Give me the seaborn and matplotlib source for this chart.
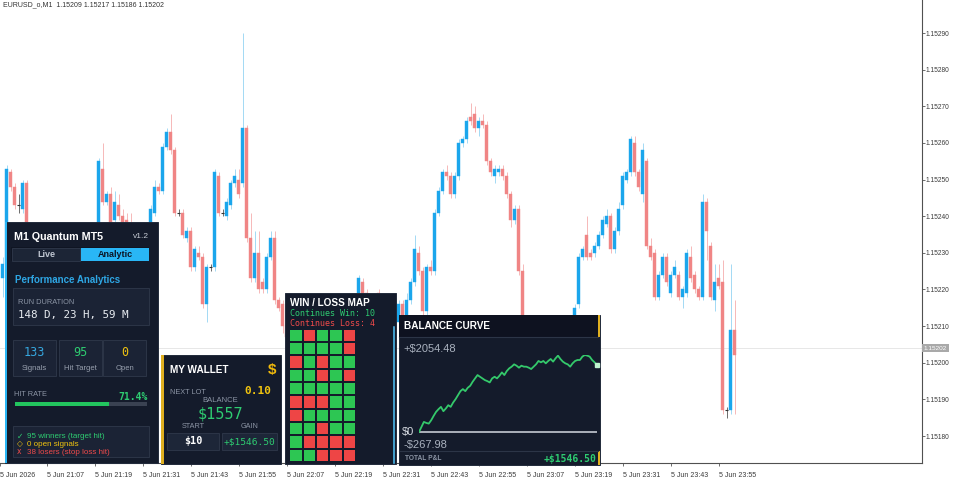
import numpy as np
import matplotlib
matplotlib.use("Agg")
import matplotlib.pyplot as plt
from matplotlib.patches import Rectangle
from matplotlib.colors import ListedColormap
import seaborn as sns

# ---------------- chart data ----------------
header_text = "EURUSD_o,M1  1.15209 1.15217 1.15186 1.15202"
first_candle = "20:56"

# M1 candles, prices in points above 1.15000 (1 point = 0.00001)
opens = [223, 227, 252, 248, 243, 242, 249, 237, 234, 231,
         233, 228, 225, 227, 223, 220, 222, 219, 224, 226,
         223, 228, 231, 229, 236, 253, 244, 246, 239, 243,
         240, 239, 237, 233, 230, 228, 231, 233, 241, 248,
         247, 259, 263, 258, 241, 241, 234, 236, 226, 230,
         229, 216, 226, 226, 251, 241, 240, 243, 249, 250,
         249, 264, 234, 223, 230, 222, 220, 229, 234, 217,
         216, 210, 207, 204, 206, 202, 199, 203, 205, 201,
         198, 202, 206, 204, 208, 211, 209, 213, 215, 219,
         222, 219, 218, 216, 219, 215, 212, 214, 211, 211,
         216, 212, 217, 222, 230, 225, 214, 226, 225, 241,
         247, 252, 251, 246, 251, 260, 261, 267, 268, 264,
         266, 265, 255, 251, 252, 253, 251, 246, 239, 242,
         225, 212, 208, 205, 209, 203, 200, 204, 207, 202,
         199, 203, 206, 204, 216, 229, 235, 230, 230, 232,
         235, 238, 240, 231, 236, 243, 250, 252, 260, 252,
         246, 255, 232, 230, 218, 224, 229, 219, 224, 224,
         218, 219, 229, 224, 220, 218, 244, 232, 217, 223,
         222, 187, 187, 209]
highs = [229, 254, 253, 249, 246, 250, 250, 237, 235, 235,
         234, 230, 229, 228, 224, 224, 223, 226, 228, 227,
         229, 233, 232, 236, 256, 260, 247, 248, 247, 246,
         242, 241, 241, 235, 232, 233, 234, 243, 250, 249,
         260, 264, 268, 259, 242, 242, 237, 237, 232, 232,
         230, 227, 227, 253, 252, 242, 245, 250, 253, 253,
         290, 265, 241, 236, 236, 223, 230, 236, 236, 218,
         217, 212, 209, 207, 207, 203, 204, 206, 206, 202,
         203, 207, 207, 209, 212, 212, 214, 216, 218, 224,
         223, 220, 219, 218, 220, 216, 215, 215, 214, 217,
         217, 219, 223, 235, 232, 226, 227, 228, 242, 248,
         253, 254, 252, 252, 261, 262, 267, 271, 270, 267,
         268, 266, 256, 254, 254, 254, 252, 247, 243, 243,
         227, 212, 210, 210, 210, 205, 206, 208, 208, 203,
         204, 207, 207, 216, 230, 232, 240, 231, 233, 236,
         240, 242, 241, 237, 244, 252, 253, 262, 262, 253,
         260, 256, 234, 231, 225, 230, 230, 225, 228, 225,
         221, 231, 232, 225, 221, 246, 245, 233, 227, 227,
         228, 188, 227, 217]
lows = [218, 225, 247, 242, 241, 241, 236, 232, 229, 230,
        226, 224, 224, 221, 218, 219, 217, 218, 223, 221,
        222, 227, 227, 228, 235, 243, 243, 237, 238, 239,
        236, 233, 232, 229, 226, 227, 230, 232, 240, 246,
        246, 258, 257, 240, 240, 234, 233, 225, 225, 228,
        215, 211, 225, 225, 240, 240, 239, 242, 248, 245,
        248, 233, 222, 222, 219, 219, 219, 228, 216, 214,
        208, 205, 203, 203, 201, 197, 198, 202, 200, 196,
        197, 201, 203, 203, 207, 208, 208, 212, 214, 217,
        217, 216, 215, 214, 214, 211, 211, 210, 210, 210,
        211, 211, 216, 221, 224, 213, 212, 224, 224, 240,
        246, 250, 245, 245, 250, 259, 260, 265, 263, 262,
        264, 254, 251, 249, 251, 250, 245, 237, 238, 224,
        212, 206, 204, 204, 202, 198, 199, 203, 201, 197,
        198, 202, 203, 203, 215, 228, 228, 228, 229, 231,
        234, 237, 230, 230, 235, 242, 249, 251, 251, 247,
        244, 231, 228, 217, 217, 223, 221, 218, 223, 217,
        215, 218, 222, 219, 217, 217, 228, 217, 214, 220,
        186, 185, 186, 186]
closes = [227, 253, 248, 243, 243, 249, 238, 234, 231, 233,
          228, 225, 227, 223, 220, 222, 219, 224, 226, 223,
          228, 231, 229, 235, 255, 244, 246, 238, 244, 240,
          237, 234, 233, 230, 228, 231, 233, 242, 248, 247,
          259, 263, 258, 241, 241, 235, 236, 226, 231, 229,
          216, 226, 226, 252, 241, 241, 244, 249, 251, 246,
          264, 234, 223, 230, 220, 220, 229, 234, 217, 215,
          210, 207, 204, 206, 202, 199, 203, 205, 201, 198,
          202, 206, 204, 208, 211, 209, 213, 215, 217, 223,
          218, 218, 216, 217, 215, 212, 214, 211, 213, 216,
          212, 217, 222, 231, 225, 214, 226, 225, 241, 247,
          252, 251, 246, 251, 260, 261, 266, 266, 264, 266,
          265, 255, 252, 253, 253, 251, 246, 239, 242, 225,
          213, 208, 205, 209, 203, 200, 204, 207, 202, 199,
          203, 206, 204, 215, 229, 231, 229, 229, 232, 235,
          239, 240, 231, 236, 242, 251, 252, 261, 252, 248,
          258, 232, 229, 218, 224, 229, 222, 224, 226, 218,
          220, 230, 223, 220, 218, 244, 236, 218, 222, 221,
          187, 187, 209, 202]

price_ticks = [1.15180, 1.15190, 1.15200, 1.15210, 1.15220, 1.15230,
               1.15240, 1.15250, 1.15260, 1.15270, 1.15280, 1.15290]
date_label = "5 Jun 2026"
time_labels = ["21:07", "21:19", "21:31", "21:43", "21:55", "22:07", "22:19",
               "22:31", "22:43", "22:55", "23:07", "23:19", "23:31", "23:43", "23:55"]
bid_price = 1.15204
bid_text = "1.15202"

# dashboard values
run_duration = "148 D, 23 H, 59 M"
n_signals, n_hit, n_open, n_losers = 133, 95, 0, 38
hit_rate = 71.4
next_lot = 0.10
wallet_balance = 1557
wallet_start = 10
wallet_gain = 1546.50
streak_win, streak_loss = 10, 4
win_loss_rows = ["WLWWL", "WWWWL", "LWLWW", "WWLWL", "WWWWW",
                 "LLLWW", "LWWWW", "WWLWW", "WLLLL", "WWLLL"]
balance_curve = [0, 134, 268, 241, 223, 313, 429, 536, 608, 670, 554, 626, 715,
                 670, 786, 876, 983, 1090, 1144, 1090, 1180, 1233, 1340, 1430,
                 1519, 1474, 1430, 1385, 1358, 1322, 1430, 1474, 1430, 1501, 1590,
                 1519, 1626, 1698, 1743, 1805, 1769, 1716, 1769, 1743, 1743, 1716,
                 1680, 1743, 1805, 1895, 1859, 1895, 1832, 1895, 1948, 1877, 1966,
                 2038, 1948, 1877, 1832, 1805, 1743, 1832, 1895, 1921, 1921, 2011,
                 2054.48, 2038, 2011, 1921, 1859, 1787]
balance_max, balance_min = 2054.48, -267.98
total_pnl = 1546.50

# ---------------- styles ----------------
W, H = 960, 487
BULL, BULL_WICK = "#1ba6ec", "#a3d9f4"
BEAR, BEAR_WICK = "#f08585", "#f6b8b8"
PANEL = "#141b2b"
INNER = "#1b2335"
EDGE = "#2c3547"
GREEN = "#2ecc71"
RED = "#ef4a4a"
GOLD = "#f1c40f"
BLUE = "#2ea6e4"
GREY = "#8c95a5"
SANS = "Liberation Sans"
MONO = "DejaVu Sans Mono"

fig = plt.figure(figsize=(W / 100, H / 100), dpi=100)
fig.patch.set_facecolor("white")


def frect(x0, y0, x1, y1):
    return [x0 / W, 1 - y1 / H, (x1 - x0) / W, (y1 - y0) / H]


# ---------------- candle chart ----------------
ax = fig.add_axes(frect(0, 0, 922, 463))
o = 1.15 + np.array(opens) * 1e-5
hi = 1.15 + np.array(highs) * 1e-5
lo = 1.15 + np.array(lows) * 1e-5
c = 1.15 + np.array(closes) * 1e-5
x = np.arange(len(o))
up = np.array(closes) > np.array(opens)
dn = np.array(closes) < np.array(opens)
dj = np.array(closes) == np.array(opens)

ax.axhline(bid_price, color="#e3e3e3", lw=0.6, zorder=0)
ax.vlines(x[up], lo[up], hi[up], color=BULL_WICK, lw=0.7, zorder=1)
ax.vlines(x[dn], lo[dn], hi[dn], color=BEAR_WICK, lw=0.7, zorder=1)
ax.vlines(x[dj], lo[dj], hi[dj], color="#555555", lw=0.6, zorder=1)
ax.bar(x[up], (c - o)[up], bottom=o[up], width=0.68, color=BULL, edgecolor=BULL, lw=0.3, zorder=2)
ax.bar(x[dn], (o - c)[dn], bottom=c[dn], width=0.68, color=BEAR, edgecolor=BEAR, lw=0.3, zorder=2)
ax.hlines(o[dj], x[dj] - 0.4, x[dj] + 0.4, color="#333333", lw=0.8, zorder=2)

px_per_price = 366400.0
ax.set_xlim(-2.7 / 4, (922 - 2.7) / 4)
ax.set_ylim(1.15290 - 430 / px_per_price, 1.15290 + 33 / px_per_price)

start_min = int(first_candle[:2]) * 60 + int(first_candle[3:])
tick_pos = [ax.get_xlim()[0]] + [int(t[:2]) * 60 + int(t[3:]) - start_min for t in time_labels]
ax.set_xticks(tick_pos)
ax.set_xticklabels([date_label] + ["5 Jun " + t for t in time_labels], ha="left",
                   fontsize=5, family=SANS, color="#3a3a3a")
ax.yaxis.tick_right()
ax.set_yticks(price_ticks)
ax.set_yticklabels([f"{p:.5f}" for p in price_ticks], fontsize=4.8, family=SANS, color="#3a3a3a")
ax.tick_params(axis="x", length=2.5, width=0.6, pad=4, color="#555555")
ax.tick_params(axis="y", length=1.8, width=0.6, pad=1, color="#555555")
for s in ["left", "top"]:
    ax.spines[s].set_visible(False)
for s in ["right", "bottom"]:
    ax.spines[s].set_color("#505050")
    ax.spines[s].set_linewidth(0.8)
ax.set_facecolor("white")
ax.text(1.002, bid_price, bid_text, transform=ax.get_yaxis_transform(), ha="left", va="center",
        fontsize=4.6, family=SANS, color="white",
        bbox=dict(boxstyle="square,pad=0.25", fc="#a9a9a9", ec="none"))

# ---------------- overlay panels (pixel coordinates) ----------------
ov = fig.add_axes([0, 0, 1, 1], zorder=5)
ov.set_xlim(0, W)
ov.set_ylim(H, 0)
ov.axis("off")
ov.patch.set_alpha(0)


def box(x0, y0, w, h, fc, ec="none", lw=0.7):
    ov.add_patch(Rectangle((x0, y0), w, h, facecolor=fc, edgecolor=ec, linewidth=lw))


def txt(x0, y0, s, size, color, weight="normal", family=SANS, ha="left", va="center"):
    ov.text(x0, y0, s, fontsize=size, color=color, fontweight=weight, family=family,
            ha=ha, va=va)


ov.text(3, 5, header_text, fontsize=5, family=SANS, color="#333333", va="center")

# M1 Quantum panel
box(5, 222, 153, 241, PANEL, "#222b3c")
box(5, 222, 2.2, 241, "#29b6f6")
txt(14, 237, "M1 Quantum MT5", 7.7, "white", "bold")
txt(149, 236, "v1.2", 6, "#c8cdd6", ha="right")
box(11, 247, 138, 14, "#0f1523")
box(11.5, 247.5, 68, 13, "#1c2536", EDGE)
box(81, 247.5, 68, 13, "#29b6f6")
txt(46, 254.5, "Live", 6.5, "#c0c7d2", "bold", ha="center")
txt(115, 254.5, "Analytic", 6.5, "#0c1626", "bold", ha="center")
txt(15, 280, "Performance Analytics", 7, BLUE, "bold")
box(13, 288, 136, 37, INNER, EDGE)
txt(18, 302, "RUN DURATION", 5.3, GREY)
txt(18, 315, run_duration, 7.8, "#e8ecf1", family=MONO)
stat_boxes = [(13, str(n_signals), "Signals", "#36a8e0"),
              (58.5, str(n_hit), "Hit Target", GREEN),
              (103, str(n_open), "Open", GOLD)]
for bx, val, lab, col in stat_boxes:
    box(bx, 340, 43, 36, INNER, EDGE)
    txt(bx + 21.5, 352, val, 8.5, col, family=MONO, ha="center")
    txt(bx + 21.5, 369, lab, 5.5, "#98a0ae", ha="center")
txt(14, 395, "HIT RATE", 5.3, GREY)
txt(148, 396.5, f"{hit_rate:.1f}%", 7, GREEN, "bold", family=MONO, ha="right")
box(15, 402, 132, 4, "#3a4252")
box(15, 402, 132 * hit_rate / 100, 4, "#22c55e")
box(13, 426, 136, 31, INNER, EDGE)
lines = [("✓", f"{n_hit} winners (target hit)", GREEN),
         ("◇", f"{n_open} open signals", GOLD),
         ("x", f"{n_losers} losers (stop loss hit)", RED)]
for k, (sym, s, col) in enumerate(lines):
    txt(17, 436 + 8 * k, sym, 5.5, col, family="DejaVu Sans")
    txt(27, 436 + 8 * k, s, 5.8, col)

# wallet panel
box(161, 355, 120, 109, PANEL, "#222b3c")
box(161, 355, 2.5, 109, "#e0b020")
txt(170, 370, "MY WALLET", 7.2, "white", "bold")
txt(272, 370, "$", 11, "#f0b90b", "bold", ha="center")
txt(170, 392, "NEXT LOT", 5.3, GREY)
txt(271, 391, f"{next_lot:.2f}", 8, GOLD, "bold", family=MONO, ha="right")
txt(220, 401, "BALANCE", 5.5, GREY, ha="center")
txt(220, 414, f"${wallet_balance}", 11, GREEN, family=MONO, ha="center")
txt(193, 427, "START", 5.2, GREY, ha="center")
txt(250, 427, "GAIN", 5.2, GREY, ha="center")
box(167, 433, 52, 17, "#1d2638", EDGE)
box(222, 433, 55, 17, "#1d2638", EDGE)
txt(193, 441.5, f"${wallet_start}", 7.3, "white", "bold", family=MONO, ha="center")
txt(249.5, 441.5, f"+${wallet_gain:.2f}", 6.8, GREEN, family=MONO, ha="center")

# win / loss map panel
box(285, 293, 111, 171, PANEL, "#222b3c")
txt(290, 303, "WIN / LOSS MAP", 7.2, "white", "bold")
txt(290, 314, f"Continues Win: {streak_win}", 6, GREEN, family=MONO)
txt(290, 324, f"Continues Loss: {streak_loss}", 6, RED, family=MONO)
ov.plot([393.5, 393.5], [327, 463], color="#4fc3f7", lw=1.1)

# balance curve panel
box(399, 315, 201, 150, PANEL, "#222b3c")
box(399, 315, 201, 22, "#0e1220")
ov.plot([399, 598], [337, 337], color=EDGE, lw=0.8)
ov.plot([399, 598], [451, 451], color=EDGE, lw=0.8)
box(598, 315, 2.2, 22, "#e0b020")
box(598, 451, 2.2, 14, "#e0b020")
txt(404, 326, "BALANCE CURVE", 7.2, "white", "bold")
txt(403, 349, f"+${balance_max:.2f}", 8, "#aab2bf")
txt(402, 432, "$0", 8, "#d8dce3")
txt(403, 445, f"-${-balance_min:.2f}", 8, "#aab2bf")
txt(405, 458, "TOTAL P&L", 4.8, GREY, "bold")
txt(596, 459.5, f"+${total_pnl:.2f}", 7, GREEN, "bold", family=MONO, ha="right")

# heatmap of the last trades
grid = np.array([[1 if ch == "W" else 0 for ch in row] for row in win_loss_rows])
gax = fig.add_axes(frect(289.2, 328.8, 355.9, 462.1), zorder=6)
sns.heatmap(grid, ax=gax, cmap=ListedColormap(["#ee4545", "#2dc653"]), vmin=0, vmax=1,
            cbar=False, linewidths=1.2, linecolor=PANEL, xticklabels=False, yticklabels=False)
gax.axis("off")

# balance curve line
cax = fig.add_axes(frect(419, 355, 597, 442), zorder=6)
cax.patch.set_alpha(0)
cax.axhline(0, color="#c5cad3", lw=1.2)
steps = np.arange(len(balance_curve))
sns.lineplot(x=steps, y=balance_curve, ax=cax, color="#34c96b", lw=1.3)
cax.plot(steps[-1], balance_curve[-1], marker="s", ms=2.6, color="#bff5cf", clip_on=False)
cax.set_xlim(0, steps[-1])
cax.set_ylim(balance_min, balance_max)
cax.axis("off")

fig.savefig("out.png", dpi=100, facecolor="white")
